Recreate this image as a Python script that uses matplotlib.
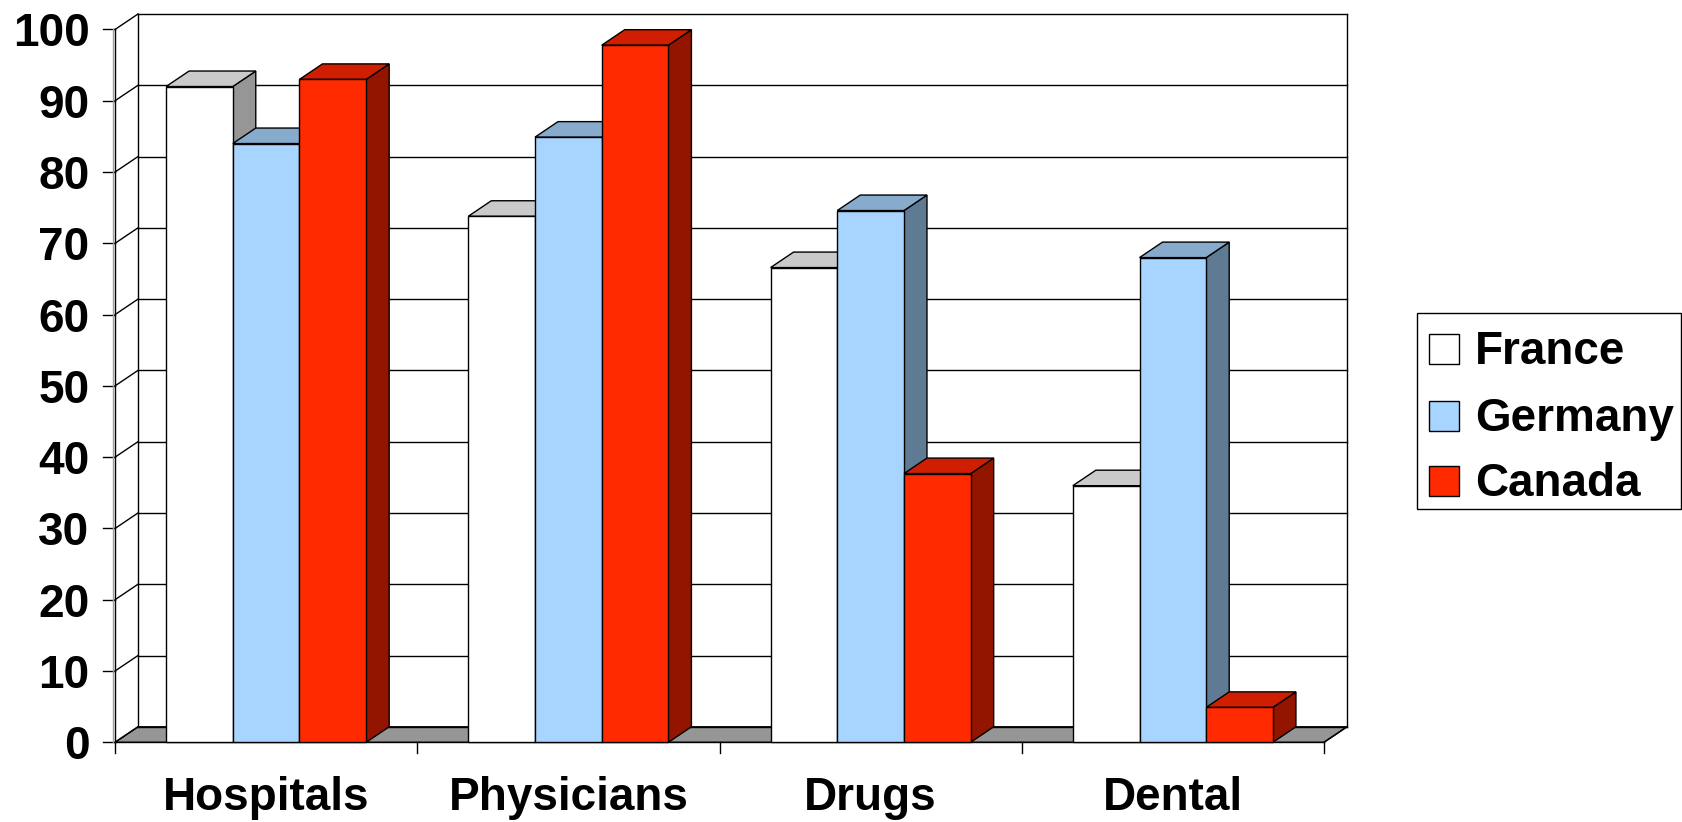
import matplotlib
matplotlib.use("Agg")
import matplotlib.pyplot as plt
from matplotlib.patches import Polygon, Rectangle
import numpy as np

plt.rcParams['font.family'] = ['Liberation Sans', 'DejaVu Sans']

categories = ["Hospitals", "Physicians", "Drugs", "Dental"]
series = ["France", "Germany", "Canada"]
france = [92.0, 73.8, 66.6, 36.0]
germany = [84.0, 84.9, 74.6, 68.0]
canada = [93.0, 97.8, 37.7, 4.9]
yticks = [0, 10, 20, 30, 40, 50, 60, 70, 80, 90, 100]

front_colors = ["#FFFFFF", "#A8D5FF", "#FF2A00"]
top_colors = ["#CACACA", "#87ABCD", "#CF1F00"]
side_colors = ["#969696", "#5F7A93", "#931500"]

W, H = 1682, 822
fig = plt.figure(figsize=(W / 100, H / 100), dpi=100)
FS = 33

# axes placement in pixels
x0p, x1p = 115, 1324
y0p, y100p = 742.3, 29.5
ax = fig.add_axes([x0p / W, (H - y0p) / H, (x1p - x0p) / W, (y0p - y100p) / H])
ax.set_xlim(0, 4)
ax.set_ylim(0, 100)
ax.axis("off")

pxx = 4 / (x1p - x0p)          # data units per px in x
pxy = 100 / (y0p - y100p)      # data units per px in y
DX = 23 * pxx
DY = 15.5 * pxy
ncat = len(categories)
lw = 1.0

# floor
ax.add_patch(Polygon([(0, 0), (ncat, 0), (ncat + DX, DY), (DX, DY)], closed=True,
                     facecolor="#969696", edgecolor="black", lw=lw, clip_on=False, zorder=1))
# back wall gridlines + left wall diagonals + tick marks
for v in yticks:
    ax.plot([DX, ncat + DX], [v + DY, v + DY], color="black", lw=lw, clip_on=False, zorder=1)
    ax.plot([0, DX], [v, v + DY], color="black", lw=lw, clip_on=False, zorder=1)
    ax.plot([-12 * pxx, 0], [v, v], color="black", lw=lw, clip_on=False, zorder=1)
    ax.text(-25.5 * pxx, v - 17 * pxy, str(v), ha="right", va="baseline",
            fontsize=FS, fontweight="bold", clip_on=False)
# walls
ax.plot([0, 0], [0, 100], color="black", lw=lw, clip_on=False, zorder=1)
ax.plot([-2 * pxx, -2 * pxx], [0, 100], color="#A0A0A0", lw=lw, clip_on=False, zorder=1)
ax.plot([DX, DX], [DY, 100 + DY], color="black", lw=lw, clip_on=False, zorder=1)
ax.plot([ncat + DX, ncat + DX], [DY, 100 + DY], color="black", lw=lw, clip_on=False, zorder=1)
ax.plot([0, ncat], [0, 0], color="black", lw=lw, clip_on=False, zorder=1)
ax.plot([ncat, ncat + DX], [0, DY], color="black", lw=lw, clip_on=False, zorder=1)
# category ticks
for k in range(ncat + 1):
    ax.plot([k, k], [0, -11 * pxy], color="black", lw=lw, clip_on=False, zorder=1)

# bars
bw = 66.7 * pxx
values = [france, germany, canada]
z = 2
for i in range(ncat):
    for j in range(len(series)):
        v = values[j][i]
        left = i + 0.5 + (j - 1.5) * bw
        right = left + bw
        side = Polygon([(right, 0), (right + DX, DY), (right + DX, v + DY), (right, v)],
                       closed=True, facecolor=side_colors[j], edgecolor="black", lw=lw,
                       clip_on=False, zorder=z)
        top = Polygon([(left, v), (right, v), (right + DX, v + DY), (left + DX, v + DY)],
                      closed=True, facecolor=top_colors[j], edgecolor="black", lw=lw,
                      clip_on=False, zorder=z)
        ax.add_patch(side)
        ax.add_patch(top)
        ax.bar(left, v, width=bw, align="edge", color=front_colors[j], edgecolor="black",
               lw=lw, zorder=z + 0.5, clip_on=False)
        z += 1
    ax.text(i + 0.5, (y0p - 810) * pxy, categories[i], ha="center", va="baseline",
            fontsize=FS, fontweight="bold", clip_on=False)

# legend (figure pixel coords)
def fx(px):
    return px / W

def fy(py):
    return 1 - py / H

fig.patches.append(Rectangle((fx(1417), fy(509)), fx(1681) - fx(1417), fy(312.7) - fy(509),
                             transform=fig.transFigure, facecolor="white", edgecolor="black",
                             lw=1.0, figure=fig))
rows = [349.5, 415.5, 481]
for j, name in enumerate(series):
    cy = rows[j]
    fig.patches.append(Rectangle((fx(1429), fy(cy + 15)), fx(30), 30 / H,
                                 transform=fig.transFigure, facecolor=front_colors[j],
                                 edgecolor="black", lw=1.0, figure=fig))
    fig.text(fx(1475), fy(cy + 15), name, ha="left", va="baseline", fontsize=FS,
             fontweight="bold")

fig.savefig("out.png", dpi=100)
